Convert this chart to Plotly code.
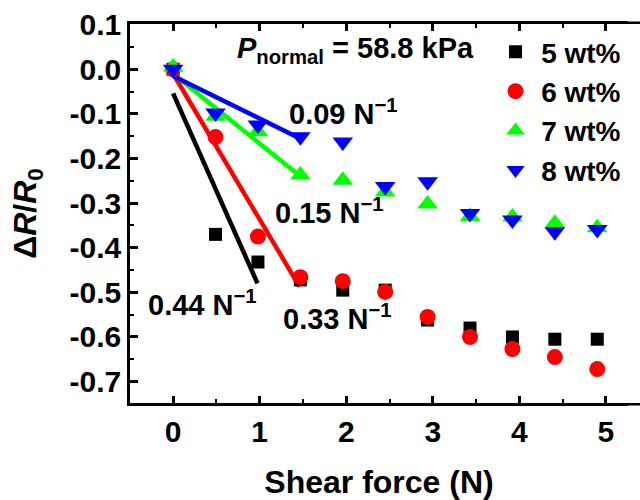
import plotly.graph_objects as go

# ---- data ----
force = [0, 0.49, 0.98, 1.47, 1.96, 2.45, 2.94, 3.43, 3.92, 4.41, 4.90]
wt5 = [0.0, -0.370, -0.432, -0.472, -0.495, -0.495, -0.562, -0.580, -0.600, -0.605, -0.605]
wt6 = [0.0, -0.152, -0.375, -0.466, -0.475, -0.499, -0.555, -0.600, -0.627, -0.645, -0.672]
wt7 = [0.005, -0.105, -0.140, -0.237, -0.249, -0.275, -0.302, -0.330, -0.331, -0.345, -0.355]
wt8 = [0.0, -0.098, -0.125, -0.151, -0.163, -0.263, -0.252, -0.323, -0.338, -0.364, -0.359]
series_names = ["5 wt%", "6 wt%", "7 wt%", "8 wt%"]

# linear fits (start/end points)
fit5_x = [0.0, 0.975]; fit5_y = [-0.054, -0.480]
fit6_x = [0.0, 1.46];  fit6_y = [-0.010, -0.487]
fit7_x = [0.0, 1.476]; fit7_y = [-0.010, -0.241]
fit8_x = [0.0, 1.495]; fit8_y = [-0.015, -0.158]
slope_labels = ["0.44 N<sup>−1</sup>", "0.33 N<sup>−1</sup>", "0.15 N<sup>−1</sup>", "0.09 N<sup>−1</sup>"]
slope_label_x = [-0.31, 1.25, 1.158, 1.31]
slope_label_y = [-0.524, -0.555, -0.318, -0.096]

x_ticks = [0, 1, 2, 3, 4, 5]
y_ticks = [0.1, 0.0, -0.1, -0.2, -0.3, -0.4, -0.5, -0.6, -0.7]
y_ticktext = ["0.1", "0.0", "-0.1", "-0.2", "-0.3", "-0.4", "-0.5", "-0.6", "-0.7"]

colors = ["#000000", "#ff0000", "#00ff00", "#0000ff"]
symbols = ["square", "circle", "triangle-up", "triangle-down"]
sizes = [13, 16, 18, 18]

FONT = "Liberation Sans, Arial, sans-serif"

fig = go.Figure()

fits = [(fit5_x, fit5_y), (fit6_x, fit6_y), (fit7_x, fit7_y), (fit8_x, fit8_y)]
for (fx, fy), c in zip(fits, colors):
    fig.add_trace(go.Scatter(x=fx, y=fy, mode="lines", line=dict(color=c, width=4.5),
                             showlegend=False, hoverinfo="skip"))

for ys, name, c, s, sz in zip([wt5, wt6, wt7, wt8], series_names, colors, symbols, sizes):
    fig.add_trace(go.Scatter(x=force, y=ys, mode="markers", name="\u2009" + name,
                             marker=dict(color=c, symbol=s, size=sz, line=dict(width=0))))

for txt, ax, ay in zip(slope_labels, slope_label_x, slope_label_y):
    fig.add_annotation(x=ax, y=ay, text=txt, showarrow=False, xanchor="left", yanchor="middle",
                       font=dict(family=FONT, size=29, color="black", weight="bold"))

fig.add_annotation(x=0.72, y=0.044, text="<i>P</i><sub>normal</sub> = 58.8 kPa", showarrow=False,
                   xanchor="left", yanchor="middle",
                   font=dict(family=FONT, size=29, color="black", weight="bold"))

# frame continues to the right edge of the picture (cropped figure)
for yy in (-0.0033, 1.0033):
    fig.add_shape(type="line", xref="paper", yref="paper", x0=0.99, x1=1.03, y0=yy, y1=yy,
                  line=dict(color="black", width=2.5), layer="above")

axis_font = dict(family=FONT, size=30, color="black", weight="bold")

fig.update_layout(
    width=640, height=500,
    margin=dict(l=130, r=12, t=24, b=97, autoexpand=False),
    paper_bgcolor="white", plot_bgcolor="white",
    font=dict(family=FONT, color="black"),
    xaxis=dict(range=[-0.498, 5.255], tickvals=x_ticks, ticks="inside", ticklen=7, tickwidth=2.5,
               tickcolor="black", showline=True, linewidth=2.5, linecolor="black", showgrid=False,
               mirror="ticks", zeroline=False, tickfont=axis_font, automargin=False,
               minor=dict(dtick=0.5, ticks="inside", ticklen=4, tickwidth=2, tickcolor="black"),
               title=dict(text="Shear force (N)", font=dict(family=FONT, size=32, color="black", weight="bold"),
                          standoff=27)),
    yaxis=dict(range=[-0.748, 0.1015], tickvals=y_ticks, ticktext=y_ticktext, ticks="inside", ticklen=8,
               tickwidth=2.5, tickcolor="black", showline=True, linewidth=2.5, linecolor="black",
               mirror=False, showgrid=False, zeroline=False, tickfont=axis_font, automargin=False,
               minor=dict(dtick=0.05, ticks="inside", ticklen=4, tickwidth=2, tickcolor="black"),
               title=dict(text="Δ<i>R</i>/<i>R</i><sub>0</sub>",
                          font=dict(family=FONT, size=32, color="black", weight="bold"), standoff=24)),
    legend=dict(x=0.734, y=0.992, xanchor="left", yanchor="top", bgcolor="rgba(0,0,0,0)",
                font=dict(family=FONT, size=28, color="black", weight="bold"), tracegroupgap=0,
                itemsizing="trace"),
    showlegend=True,
)

fig.write_html("out.html")
